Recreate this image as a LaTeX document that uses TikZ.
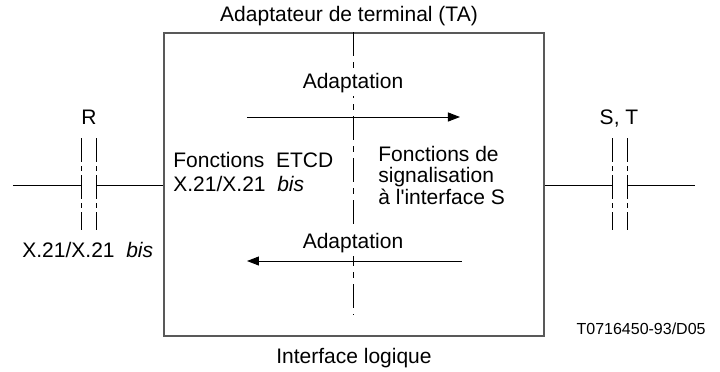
\documentclass[tikz,border=0pt]{standalone}
\usepackage{fontspec}
\setmainfont{Liberation Sans}
\usetikzlibrary{arrows.meta,positioning}

\begin{document}
\begin{tikzpicture}[
    x=0.5pt, y=-0.5pt,
    font=\fontsize{10.5}{11}\selectfont,
    every node/.style={inner sep=0pt},
    adapter/.style={draw=black!65, line width=0.8pt, minimum width=190pt, minimum height=151.5pt},
    txt/.style={anchor=base},
    block/.style={anchor=base west, align=left},
    wire/.style={line width=0.5pt},
    refpoint/.style={wire, dash pattern=on 12pt off 2pt on 2.5pt off 2pt},
    axis/.style={wire, dash pattern=on 12pt off 3pt on 3pt off 3pt},
    flow/.style={fill=white, inner sep=2pt},
    arrow/.style={wire, -{Triangle[length=6pt,width=4.5pt]}}
]
\useasboundingbox (0,0) rectangle (720,371);

% Terminal adapter
\node[adapter] (ta) at (354,184.5) {};
\node[txt] (title) at (349,21) {Adaptateur de terminal (TA)};
\node[txt] (logic) at (354,363) {Interface logique};

% Logical interface
\draw[axis] (ta.north) -- ++(0,283);

% Adaptation both ways
\coordinate (fwdstart) at (247,117);
\coordinate (fwdend) at (460,117);
\coordinate (backstart) at (462,261);
\coordinate (backend) at (247,261);
\node[flow, anchor=base] (adup) at (353,88) {Adaptation};
\node[flow, anchor=base] (addown) at (353,248) {Adaptation};
\draw[arrow] (fwdstart) -- (fwdend);
\draw[arrow] (backstart) -- (backend);

% Functions (base = last line)
\node[block, font=\fontsize{10.5}{11.75}\selectfont] (etcd) at (173,191) {Fonctions\ \ ETCD\\X.21/X.21\ \ \textit{bis}};
\node[block, font=\fontsize{10.5}{10.75}\selectfont] (signal) at (378,204) {Fonctions de\\signalisation\\à l\textquotesingle interface S};

% Reference point R
\coordinate (rwire) at (13,185);
\coordinate (r1) at (82,185);
\coordinate (r2) at (97,185);
\draw[wire] (rwire) -- (r1);
\draw[wire] (r2) -- (ta.west |- r2);
\draw[refpoint] (r1) ++(0,-47) -- ++(0,92);
\draw[refpoint] (r2) ++(0,-47) -- ++(0,92);
\node[txt] (rname) at (89,124) {R};
\node[block] (rspec) at (22,257) {X.21/X.21\ \ \textit{bis}};

% Reference point S, T
\coordinate (st1) at (613,185);
\coordinate (st2) at (628,185);
\coordinate (stwire) at (695,185);
\draw[wire] (ta.east |- st1) -- (st1);
\draw[wire] (st2) -- (stwire);
\draw[refpoint] (st1) ++(0,-47) -- ++(0,92);
\draw[refpoint] (st2) ++(0,-47) -- ++(0,92);
\node[txt] (stname) at (619,124) {S, T};

% Figure number
\node[anchor=base east, font=\fontsize{8}{9}\selectfont] (figno) at (706,334) {T0716450-93/D05};

\end{tikzpicture}
\end{document}
